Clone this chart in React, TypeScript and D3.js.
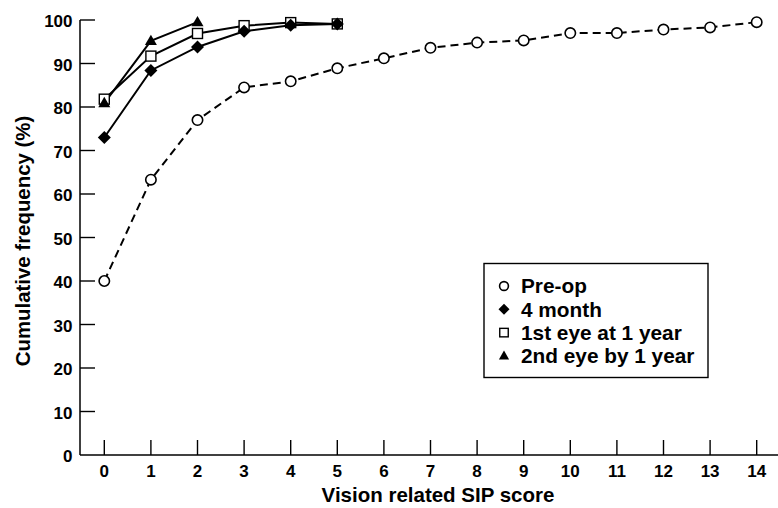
import * as d3 from 'd3'

// Vision related SIP score (x) vs cumulative frequency (%)
const PREOP_X = [0, 1, 2, 3, 4, 5, 6, 7, 8, 9, 10, 11, 12, 13, 14]
const PREOP_Y = [40, 63.3, 77, 84.5, 85.9, 88.9, 91.2, 93.6, 94.8, 95.3, 97, 97, 97.8, 98.3, 99.5]
const MONTH4_X = [0, 1, 2, 3, 4, 5]
const MONTH4_Y = [73, 88.4, 93.8, 97.4, 98.8, 99.1]
const EYE1_X = [0, 1, 2, 3, 4, 5]
const EYE1_Y = [81.8, 91.7, 96.9, 98.7, 99.4, 99.1]
const EYE2_X = [0, 1, 2]
const EYE2_Y = [80.9, 95.2, 99.5]

const X_TICKS = d3.range(0, 15)
const Y_TICKS = d3.range(0, 101, 10)
const LEGEND = ['Pre-op', '4 month', '1st eye at 1 year', '2nd eye by 1 year']

const W = 778
const H = 508
const FONT = 'Liberation Sans, Arial, sans-serif'

const x = d3.scaleLinear().domain([0, 14]).range([104.3, 756.7])
const y = d3.scaleLinear().domain([0, 100]).range([455, 20])

type Pt = [number, number]
const zip = (xs: number[], ys: number[]): Pt[] => xs.map((v, i) => [v, ys[i]])

const line = d3.line<Pt>().x(d => x(d[0])).y(d => y(d[1]))

// square turned 45deg, half-diagonal r
const diamond = (r: number) => `M0,${-r}L${r},0L0,${r}L${-r},0Z`
// filled triangle, side s
const triangle = (s: number) => {
  const h = s * 0.866
  return `M0,${-h * 0.6}L${s / 2},${h * 0.4}L${-s / 2},${h * 0.4}Z`
}

function Marker({ kind, cx, cy, small }: { kind: string; cx: number; cy: number; small?: boolean }) {
  const k = small ? 0.85 : 1
  if (kind === 'circle')
    return <circle cx={cx} cy={cy} r={5.2 * k} fill="#fff" stroke="#000" strokeWidth={1.6} />
  if (kind === 'diamond')
    return <path d={diamond(6.5 * k)} transform={`translate(${cx},${cy})`} fill="#000" />
  if (kind === 'square')
    return <rect x={cx - 5 * k} y={cy - 5 * k} width={10 * k} height={10 * k} fill="#fff" stroke="#000" strokeWidth={1.4} />
  return <path d={triangle(12 * k)} transform={`translate(${cx},${cy})`} fill="#000" />
}

const SERIES = [
  { pts: zip(PREOP_X, PREOP_Y), kind: 'circle', dash: '8,5' },
  { pts: zip(MONTH4_X, MONTH4_Y), kind: 'diamond', dash: undefined },
  { pts: zip(EYE1_X, EYE1_Y), kind: 'square', dash: undefined },
  { pts: zip(EYE2_X, EYE2_Y), kind: 'triangle', dash: undefined },
]
// markers: open squares go under the filled diamonds/triangles
const MARKER_ORDER = [0, 2, 1, 3]

export default function App() {
  return (
    <svg width={W} height={H} style={{ position: 'absolute', left: 0, top: 0, background: '#fff' }}>
      {/* axes */}
      <line x1={80} y1={y(100)} x2={80} y2={y(0)} stroke="#000" strokeWidth={1.5} />
      <line x1={80} y1={y(0)} x2={W} y2={y(0)} stroke="#000" strokeWidth={1.5} />
      {Y_TICKS.map(t => (
        <g key={t}>
          {t > 0 && <line x1={80} x2={95} y1={y(t)} y2={y(t)} stroke="#000" strokeWidth={1.4} />}
          <text x={72.5} y={y(t) + 1} dy="0.36em" textAnchor="end" fontFamily={FONT} fontWeight="bold" fontSize={17}>{t}</text>
        </g>
      ))}
      {X_TICKS.map(t => (
        <g key={t}>
          <line x1={x(t)} x2={x(t)} y1={y(0)} y2={y(0) - 15} stroke="#000" strokeWidth={1.4} />
          <text x={x(t)} y={477} textAnchor="middle" fontFamily={FONT} fontWeight="bold" fontSize={17}>{t}</text>
        </g>
      ))}
      <text x={438} y={502} textAnchor="middle" fontFamily={FONT} fontWeight="bold" fontSize={20.5}>Vision related SIP score</text>
      <text transform="translate(30,241) rotate(-90)" textAnchor="middle" fontFamily={FONT} fontWeight="bold" fontSize={20.4}>Cumulative frequency (%)</text>

      {/* lines */}
      {SERIES.map((s, i) => (
        <path key={i} d={line(s.pts)!} fill="none" stroke="#000" strokeWidth={2} strokeDasharray={s.dash} />
      ))}
      {MARKER_ORDER.map(i => (
        <g key={i}>
          {SERIES[i].pts.map((p, j) => <Marker key={j} kind={SERIES[i].kind} cx={x(p[0])} cy={y(p[1])} />)}
        </g>
      ))}

      {/* legend */}
      <rect x={484} y={263.5} width={224} height={114} fill="#fff" stroke="#000" strokeWidth={1.4} />
      {LEGEND.map((name, i) => {
        const ry = 286 + i * 23.3
        return (
          <g key={name}>
            <Marker kind={SERIES[i].kind} cx={504} cy={ry} small />
            <text x={521} y={ry} dy="0.36em" fontFamily={FONT} fontWeight="bold" fontSize={20.8}>{name}</text>
          </g>
        )
      })}
    </svg>
  )
}
